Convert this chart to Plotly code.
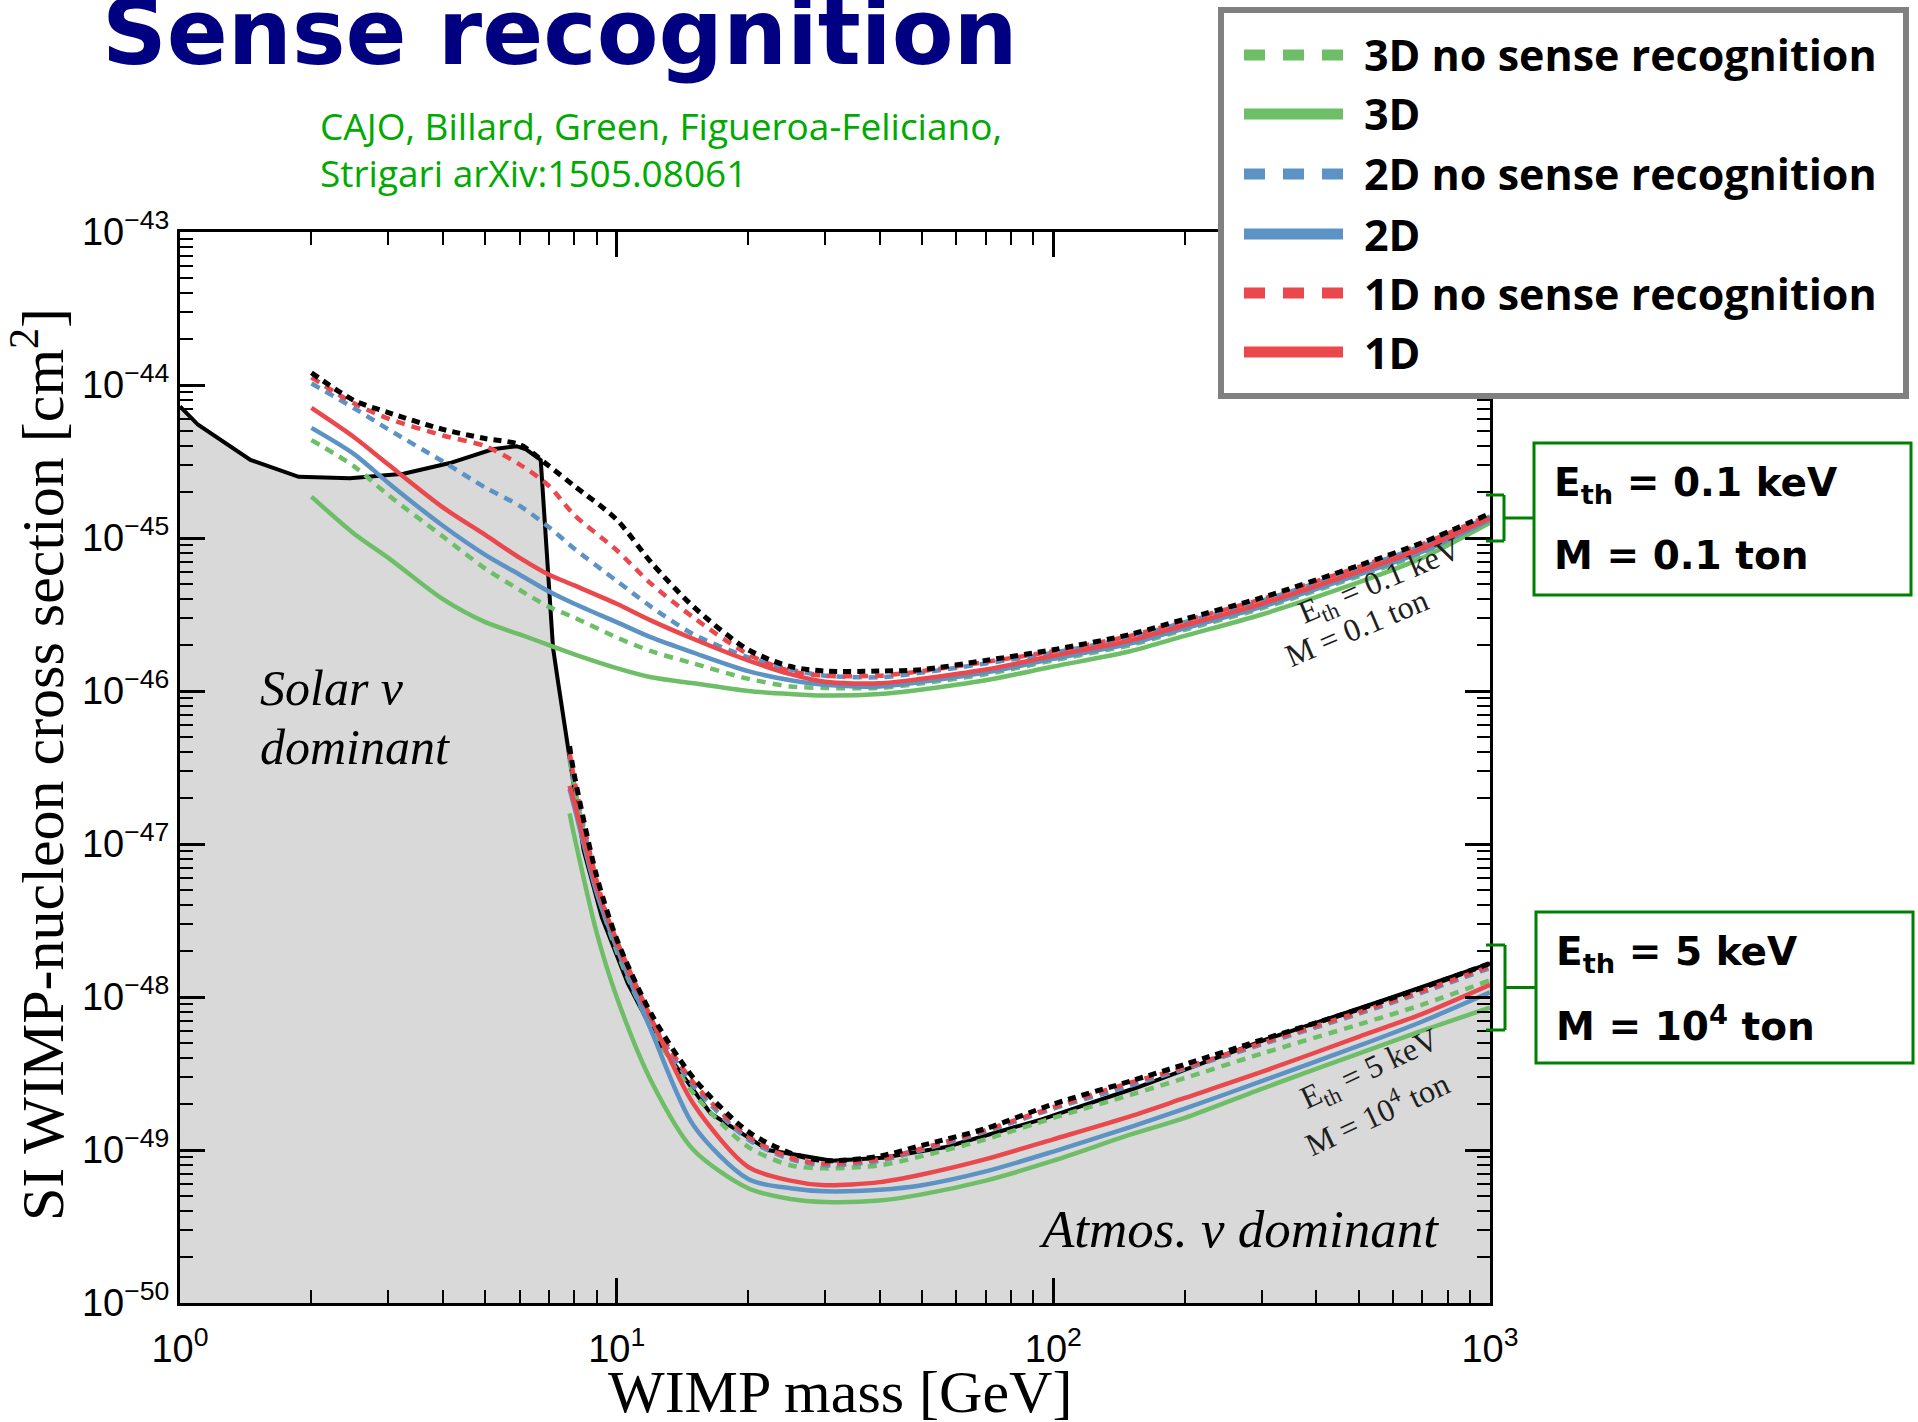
import plotly.graph_objects as go

# ---------------- data (log10 of cross section in cm^2) ----------------
floor_mass = [1.0, 1.1, 1.45, 1.87, 2.45, 3.25, 4.15, 5.2, 5.9, 6.2, 6.7, 6.85, 7.0, 7.15,
              7.35, 7.75, 7.95, 8.4, 9.25, 10.6, 12.5, 16.4, 22.2, 31.1, 40.7, 56.8, 94,
              156, 305, 600, 1000]
floor_log_sigma = [-44.14, -44.26, -44.49, -44.60, -44.61, -44.58, -44.51, -44.42, -44.40,
                   -44.42, -44.49, -44.90, -45.29, -45.72, -45.95, -46.39, -46.56, -47.04,
                   -47.48, -47.91, -48.30, -48.76, -49.00, -49.07, -49.05, -48.98, -48.80,
                   -48.59, -48.28, -48.00, -47.78]

# E_th = 0.1 keV, M = 0.1 ton
mass_low = [2, 2.5, 3, 4, 5, 6, 7, 8, 10, 12, 15, 20, 25, 30, 40, 50, 70, 100, 150, 200,
            300, 500, 700, 1000]
low_black_dash = [-43.92, -44.10, -44.18, -44.29, -44.35, -44.39, -44.53, -44.66, -44.88,
                  -45.16, -45.45, -45.73, -45.84, -45.87, -45.87, -45.86, -45.80, -45.73,
                  -45.63, -45.53, -45.39, -45.18, -45.03, -44.84]
low_1d_nosense = [-43.95, -44.12, -44.22, -44.33, -44.40, -44.52, -44.66, -44.85, -45.08,
                  -45.30, -45.52, -45.76, -45.87, -45.90, -45.90, -45.87, -45.81, -45.74,
                  -45.64, -45.54, -45.40, -45.19, -45.04, -44.85]
low_2d_nosense = [-43.99, -44.15, -44.29, -44.50, -44.67, -44.79, -44.93, -45.07, -45.28,
                  -45.45, -45.63, -45.78, -45.86, -45.90, -45.91, -45.88, -45.82, -45.75,
                  -45.65, -45.55, -45.41, -45.20, -45.05, -44.86]
low_1d = [-44.15, -44.34, -44.52, -44.80, -44.98, -45.13, -45.24, -45.31, -45.43, -45.54,
          -45.66, -45.80, -45.89, -45.94, -45.95, -45.92, -45.86, -45.77, -45.67, -45.57,
          -45.43, -45.22, -45.07, -44.87]
low_2d = [-44.28, -44.45, -44.64, -44.92, -45.11, -45.24, -45.35, -45.43, -45.55, -45.65,
          -45.75, -45.87, -45.93, -45.96, -45.97, -45.94, -45.88, -45.79, -45.69, -45.59,
          -45.45, -45.24, -45.09, -44.88]
low_3d_nosense = [-44.36, -44.53, -44.72, -44.99, -45.20, -45.34, -45.45, -45.52, -45.65,
                  -45.74, -45.82, -45.92, -45.97, -45.98, -45.98, -45.95, -45.89, -45.80,
                  -45.70, -45.60, -45.46, -45.25, -45.10, -44.88]
low_3d = [-44.73, -44.97, -45.13, -45.40, -45.55, -45.63, -45.70, -45.76, -45.85, -45.91,
          -45.95, -46.00, -46.02, -46.03, -46.02, -45.99, -45.93, -45.84, -45.74, -45.64,
          -45.50, -45.29, -45.13, -44.90]

# E_th = 5 keV, M = 10^4 ton
mass_high = [7.8, 8, 9, 10, 12, 15, 20, 25, 30, 40, 50, 70, 100, 150, 200, 300, 500, 700, 1000]
high_black_dash = [-46.36, -46.55, -47.21, -47.62, -48.11, -48.53, -48.88, -49.02, -49.07,
                   -49.04, -48.97, -48.86, -48.70, -48.55, -48.44, -48.28, -48.08, -47.94,
                   -47.78]
high_1d_nosense = [-46.40, -46.58, -47.24, -47.65, -48.14, -48.56, -48.91, -49.05, -49.09,
                   -49.06, -48.99, -48.87, -48.72, -48.56, -48.46, -48.30, -48.10, -47.96,
                   -47.80]
high_2d_nosense = [-46.42, -46.60, -47.26, -47.67, -48.16, -48.58, -48.93, -49.06, -49.10,
                   -49.07, -49.00, -48.88, -48.73, -48.58, -48.47, -48.31, -48.11, -47.97,
                   -47.81]
high_3d_nosense = [-46.45, -46.62, -47.30, -47.70, -48.20, -48.63, -48.98, -49.10, -49.12,
                   -49.10, -49.04, -48.93, -48.79, -48.64, -48.53, -48.37, -48.18, -48.05,
                   -47.89]
high_1d = [-46.62, -46.73, -47.28, -47.63, -48.14, -48.70, -49.11, -49.20, -49.23, -49.21,
           -49.16, -49.06, -48.93, -48.78, -48.66, -48.49, -48.26, -48.11, -47.92]
high_2d = [-46.64, -46.76, -47.32, -47.68, -48.22, -48.84, -49.19, -49.25, -49.27, -49.26,
           -49.23, -49.14, -49.01, -48.85, -48.73, -48.55, -48.32, -48.16, -47.97]
high_3d = [-46.80, -46.95, -47.58, -48.00, -48.55, -49.00, -49.25, -49.32, -49.34, -49.33,
           -49.29, -49.20, -49.07, -48.90, -48.79, -48.60, -48.37, -48.22, -48.07]

series_names = ["3D no sense recognition", "3D", "2D no sense recognition", "2D",
                "1D no sense recognition", "1D"]
x_tick_vals = [1, 10, 100, 1000]
x_tick_text = ["10<sup>0</sup>", "10<sup>1</sup>", "10<sup>2</sup>", "10<sup>3</sup>"]
y_tick_exps = [-50, -49, -48, -47, -46, -45, -44, -43]
y_tick_text = ["10<sup>\u2212%d</sup>" % (-e) for e in y_tick_exps]

# ---------------- styles ----------------
GREEN = "rgb(110,190,104)"
BLUE = "rgb(92,146,196)"
RED = "rgb(234,72,76)"
GRAY_FILL = "rgb(217,217,217)"
DASH = "9px,7px"

W, H = 1918, 1422
L, R, T, B = 180, 1490, 232, 1303   # plot area in pixels


def px(X):
    return (X - L) / (R - L)


def py(Y):
    return (B - Y) / (B - T)


def p10(vals):
    return [10 ** v for v in vals]


fig = go.Figure()

YMIN_EXP, YMAX_EXP = -50, -43

# gray region under the neutrino floor
fig.add_trace(go.Scatter(
    x=floor_mass + [floor_mass[-1], floor_mass[0]],
    y=p10(floor_log_sigma) + [10 ** YMIN_EXP, 10 ** YMIN_EXP],
    fill="toself", fillcolor=GRAY_FILL, line=dict(width=0), mode="lines",
    showlegend=False, hoverinfo="skip"))

fig.add_trace(go.Scatter(x=floor_mass, y=p10(floor_log_sigma), mode="lines",
                         line=dict(color="black", width=4), showlegend=False))

curves = [
    (mass_low, low_3d, GREEN, "solid", series_names[1]),
    (mass_low, low_3d_nosense, GREEN, DASH, series_names[0]),
    (mass_low, low_2d, BLUE, "solid", series_names[3]),
    (mass_low, low_2d_nosense, BLUE, DASH, series_names[2]),
    (mass_low, low_1d, RED, "solid", series_names[5]),
    (mass_low, low_1d_nosense, RED, DASH, series_names[4]),
    (mass_high, high_3d, GREEN, "solid", series_names[1]),
    (mass_high, high_3d_nosense, GREEN, DASH, series_names[0]),
    (mass_high, high_2d, BLUE, "solid", series_names[3]),
    (mass_high, high_2d_nosense, BLUE, DASH, series_names[2]),
    (mass_high, high_1d, RED, "solid", series_names[5]),
    (mass_high, high_1d_nosense, RED, DASH, series_names[4]),
]
for m, v, c, d, n in curves:
    fig.add_trace(go.Scatter(x=m, y=p10(v), mode="lines", name=n,
                             line=dict(color=c, width=4.5, dash=d, shape="spline",
                                       smoothing=0.8),
                             showlegend=False))

for m, v in [(mass_low, low_black_dash), (mass_high, high_black_dash)]:
    fig.add_trace(go.Scatter(x=m, y=p10(v), mode="lines",
                             line=dict(color="black", width=5, dash="8px,6px",
                                       shape="spline", smoothing=0.8),
                             showlegend=False))

minor_x = [k * 10 ** d for d in range(0, 3) for k in range(2, 10)]
minor_y = [k * 10.0 ** d for d in range(YMIN_EXP, YMAX_EXP) for k in range(2, 10)]

tickfont = dict(family="Liberation Sans, Arial, sans-serif", size=38, color="black")
fig.update_xaxes(type="log", range=[0, 3], tickmode="array", tickvals=x_tick_vals,
                 ticktext=x_tick_text, ticks="inside", ticklen=25, tickwidth=2.5,
                 tickcolor="black", showline=True, linecolor="black", linewidth=3,
                 mirror="allticks", showgrid=False, zeroline=False, tickfont=tickfont,
                 ticklabelstandoff=10,
                 minor=dict(tickmode="array", tickvals=minor_x, ticks="inside",
                            ticklen=13, tickwidth=2, tickcolor="black", showgrid=False))
fig.update_yaxes(type="log", range=[YMIN_EXP, YMAX_EXP], tickmode="array",
                 tickvals=[10.0 ** e for e in y_tick_exps], ticktext=y_tick_text,
                 ticks="inside", ticklen=25, tickwidth=2.5, tickcolor="black",
                 showline=True, linecolor="black", linewidth=3, mirror="allticks",
                 showgrid=False, zeroline=False, tickfont=tickfont, ticklabelstandoff=0,
                 minor=dict(tickmode="array", tickvals=minor_y, ticks="inside",
                            ticklen=13, tickwidth=2, tickcolor="black", showgrid=False))

shapes = []
annotations = []

# legend box (drawn by hand to match the long line samples)
shapes.append(dict(type="rect", xref="paper", yref="paper", x0=px(1221), x1=px(1906),
                   y0=py(10), y1=py(396), line=dict(color="rgb(128,128,128)", width=6),
                   fillcolor="white", layer="above"))
legend_rows = [55, 114, 174, 234, 293, 352]
legend_styles = [(GREEN, "21px,18px"), (GREEN, "solid"), (BLUE, "21px,18px"),
                 (BLUE, "solid"), (RED, "21px,18px"), (RED, "solid")]
for name, (col, dsh), yy in zip(series_names, legend_styles, legend_rows):
    shapes.append(dict(type="line", xref="paper", yref="paper", x0=px(1244), x1=px(1343),
                       y0=py(yy), y1=py(yy), line=dict(color=col, width=11, dash=dsh),
                       layer="above"))
    annotations.append(dict(xref="paper", yref="paper", x=px(1362), y=py(yy),
                            xanchor="left", yanchor="middle", showarrow=False,
                            text="<b>%s</b>" % name,
                            font=dict(family="Open Sans, sans-serif", size=43,
                                      color="black")))

# green boxes with brackets
BOXG = "rgb(0,128,0)"
for (bx0, by0, bx1, by1), (vx, vy0, vy1), lines in [
        ((1534, 443, 1911, 595), (1504, 495, 541),
         ["E<sub>th</sub> = 0.1 keV", "M = 0.1 ton"]),
        ((1536, 912, 1913, 1063), (1505, 945, 1030),
         ["E<sub>th</sub> = 5 keV", "M = 10<sup>4</sup> ton"])]:
    shapes.append(dict(type="rect", xref="paper", yref="paper", x0=px(bx0), x1=px(bx1),
                       y0=py(by0), y1=py(by1), line=dict(color=BOXG, width=3)))
    ym = (vy0 + vy1) / 2
    for seg in [((1486, vy0), (vx, vy0)), ((vx, vy0), (vx, vy1)),
                ((1486, vy1), (vx, vy1)), ((vx, ym), (bx0, ym))]:
        shapes.append(dict(type="line", xref="paper", yref="paper",
                           x0=px(seg[0][0]), y0=py(seg[0][1]),
                           x1=px(seg[1][0]), y1=py(seg[1][1]),
                           line=dict(color=BOXG, width=3)))
    for i, t in enumerate(lines):
        annotations.append(dict(xref="paper", yref="paper", x=px(bx0 + 18),
                                y=py(by0 + 42 + i * 70), xanchor="left", yanchor="middle",
                                showarrow=False, text="<b>%s</b>" % t,
                                font=dict(family="DejaVu Sans, sans-serif", size=39,
                                          color="black")))

# title and citation
annotations.append(dict(xref="paper", yref="paper", x=px(100), y=py(32), xanchor="left",
                        yanchor="middle", showarrow=False, text="<b>Sense recognition</b>",
                        font=dict(family="DejaVu Sans, sans-serif", size=90,
                                  color="rgb(0,0,128)")))
for i, t in enumerate(["CAJO, Billard, Green, Figueroa-Feliciano,",
                       "Strigari arXiv:1505.08061"]):
    annotations.append(dict(xref="paper", yref="paper", x=px(318), y=py(126 + 47 * i),
                            xanchor="left", yanchor="middle", showarrow=False, text=t,
                            font=dict(family="Open Sans, sans-serif", size=37,
                                      color="rgb(0,170,0)")))

serif = "Liberation Serif, Times New Roman, serif"
# axis titles
annotations.append(dict(xref="paper", yref="paper", x=px(840), y=py(1392), xanchor="center",
                        yanchor="middle", showarrow=False, text="WIMP mass [GeV]",
                        font=dict(family=serif, size=60, color="black")))
annotations.append(dict(xref="paper", yref="paper", x=px(38), y=py(765), xanchor="center",
                        yanchor="middle", showarrow=False, textangle=-90,
                        text="SI WIMP-nucleon cross section [cm<sup>2</sup>]",
                        font=dict(family=serif, size=60, color="black")))

# region labels
annotations.append(dict(xref="paper", yref="paper", x=px(258), y=py(688), xanchor="left",
                        yanchor="middle", showarrow=False, text="<i>Solar \u03bd</i>",
                        font=dict(family=serif, size=50, color="black")))
annotations.append(dict(xref="paper", yref="paper", x=px(258), y=py(747), xanchor="left",
                        yanchor="middle", showarrow=False, text="<i>dominant</i>",
                        font=dict(family=serif, size=50, color="black")))
annotations.append(dict(xref="paper", yref="paper", x=px(1441), y=py(1229), xanchor="right",
                        yanchor="middle", showarrow=False,
                        text="<i>Atmos. \u03bd dominant</i>",
                        font=dict(family=serif, size=53, color="black")))

# rotated curve labels
for (cx, cy, ang, t) in [(1380, 582, -23, "E<sub>th</sub> = 0.1 keV"),
                         (1356, 628, -23, "M = 0.1 ton"),
                         (1370, 1070, -25, "E<sub>th</sub> = 5 keV"),
                         (1376, 1112, -25, "M = 10<sup>4</sup> ton")]:
    annotations.append(dict(xref="paper", yref="paper", x=px(cx), y=py(cy),
                            xanchor="center", yanchor="middle", showarrow=False,
                            textangle=ang, text=t,
                            font=dict(family=serif, size=32, color="rgb(30,30,30)")))

fig.update_layout(width=W, height=H, margin=dict(l=L, r=W - R, t=T, b=H - B),
                  paper_bgcolor="white", plot_bgcolor="white", showlegend=False,
                  shapes=shapes, annotations=annotations)

fig.write_html("out.html")
